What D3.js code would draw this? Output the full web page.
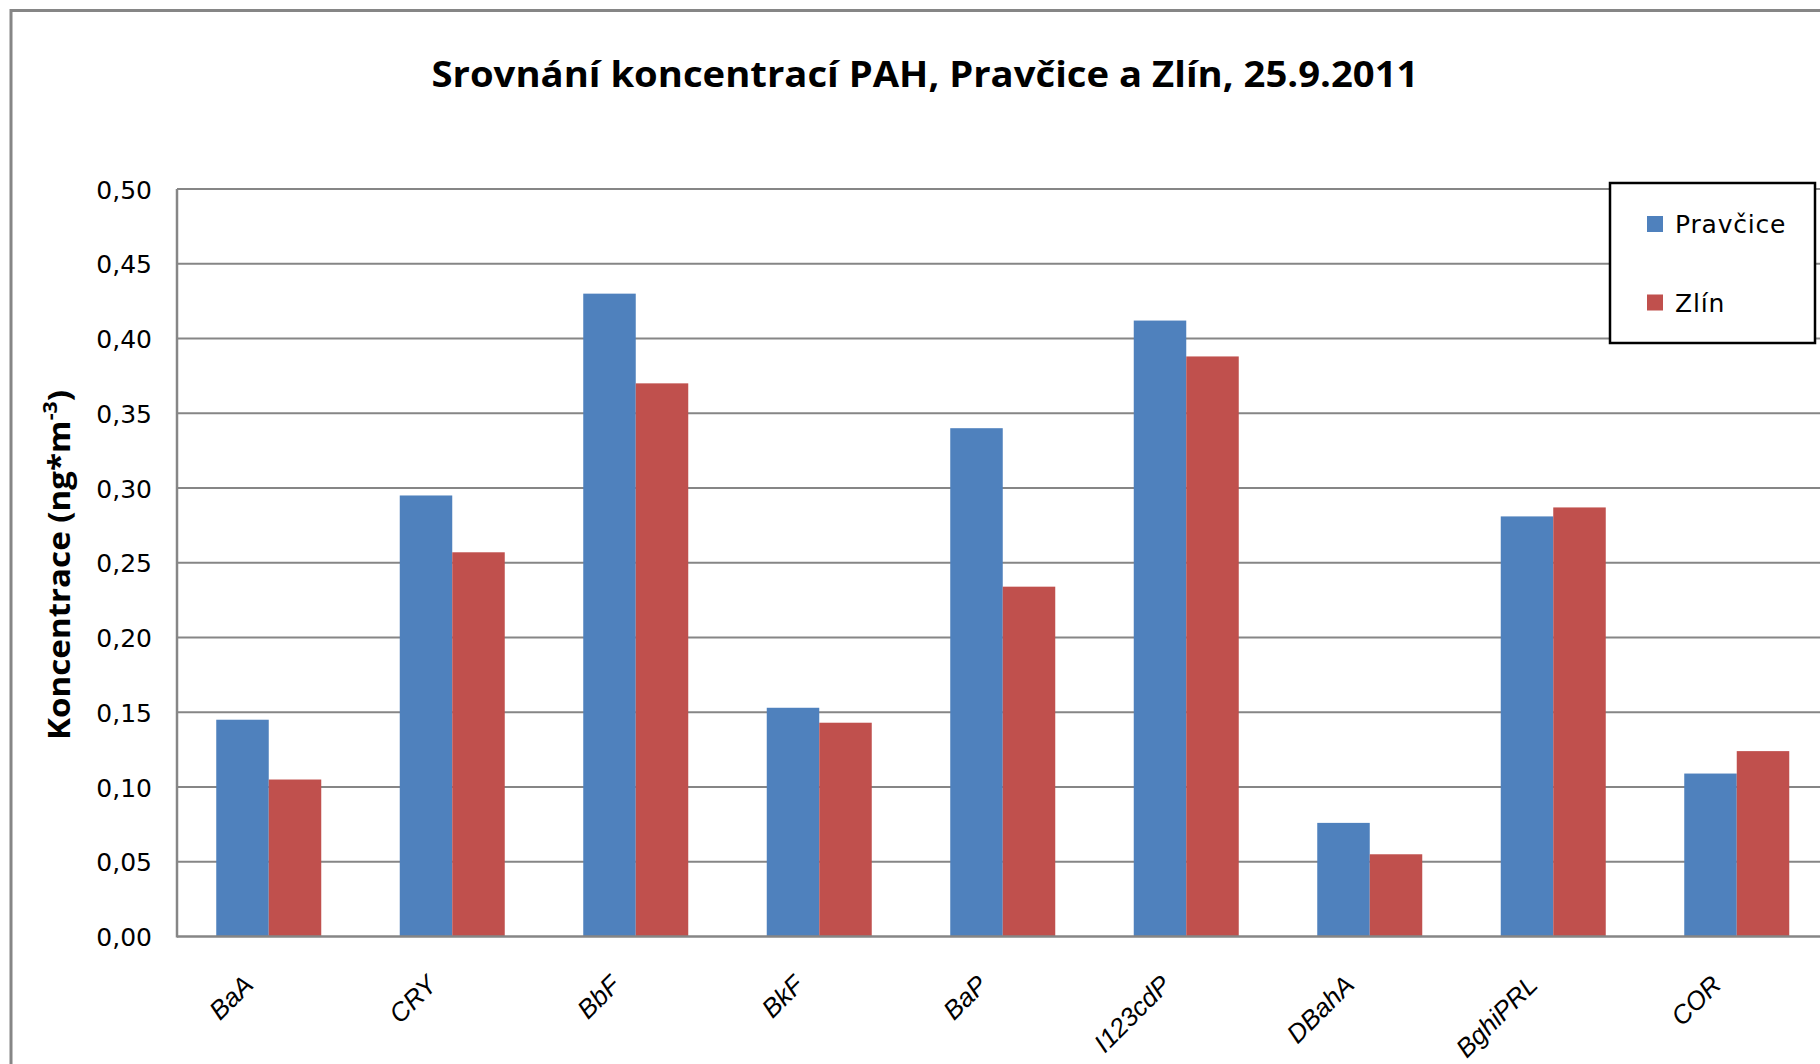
<!DOCTYPE html>
<html>
<head>
<meta charset="utf-8">
<script src="https://cdn.jsdelivr.net/npm/d3@7"></script>
<style>
  html, body { margin: 0; padding: 0; background: #fff; }
  svg { display: block; }
</style>
</head>
<body>
<svg id="chart" width="1820" height="1064"></svg>
<script>
// PAH concentrations (ng*m^-3), 25.9.2011
const categories = ["BaA", "CRY", "BbF", "BkF", "BaP", "I123cdP", "DBahA", "BghiPRL", "COR"];
const seriesNames = ["Pravčice", "Zlín"];
const pravcice = [0.145, 0.295, 0.430, 0.153, 0.340, 0.412, 0.076, 0.281, 0.109];
const zlin     = [0.105, 0.257, 0.370, 0.143, 0.234, 0.388, 0.055, 0.287, 0.124];
const yTicks = [0, 0.05, 0.10, 0.15, 0.20, 0.25, 0.30, 0.35, 0.40, 0.45, 0.50];
const colors = ["#4F81BD", "#C0504D"];

const W = 1820, H = 1064;
const plot = { left: 177, top: 189, bottom: 936.5, step: 183.5 };
plot.right = plot.left + plot.step * categories.length;

const svg = d3.select("#chart");
const gridColor = "#868686";

// outer chart frame (top and left edges visible)
svg.append("path")
  .attr("d", `M11,${H} V10.5 H${W}`)
  .attr("fill", "none")
  .attr("stroke", gridColor)
  .attr("stroke-width", 3);

const x0 = d3.scaleBand()
  .domain(categories)
  .range([plot.left, plot.right])
  .paddingInner(0.4278)
  .paddingOuter(0.2139);

const x1 = d3.scaleBand()
  .domain(seriesNames)
  .range([0, x0.bandwidth()]);

const y = d3.scaleLinear().domain([0, 0.5]).range([plot.bottom, plot.top]);

// horizontal gridlines
svg.append("g")
  .selectAll("line")
  .data(yTicks.filter(d => d > 0))
  .join("line")
  .attr("x1", plot.left).attr("x2", W)
  .attr("y1", d => y(d)).attr("y2", d => y(d))
  .attr("stroke", gridColor)
  .attr("stroke-width", 2);

// bars
const rows = categories.map((c, i) => ({ cat: c, values: [pravcice[i], zlin[i]] }));
svg.append("g")
  .selectAll("g")
  .data(rows)
  .join("g")
  .attr("transform", d => `translate(${x0(d.cat)},0)`)
  .selectAll("rect")
  .data(d => d.values.map((v, k) => ({ key: seriesNames[k], v, k })))
  .join("rect")
  .attr("x", d => x1(d.key))
  .attr("width", x1.bandwidth())
  .attr("y", d => y(d.v))
  .attr("height", d => y(0) - y(d.v))
  .attr("fill", d => colors[d.k]);

// axis lines
svg.append("line")
  .attr("x1", plot.left).attr("x2", plot.left)
  .attr("y1", plot.top).attr("y2", plot.bottom + 1)
  .attr("stroke", gridColor).attr("stroke-width", 2.5);
svg.append("line")
  .attr("x1", plot.left).attr("x2", W)
  .attr("y1", plot.bottom).attr("y2", plot.bottom)
  .attr("stroke", gridColor).attr("stroke-width", 2.5);

// y axis labels
const fmt = d => d3.format(".2f")(d).replace(".", ",");
const yAxis = svg.append("g")
  .attr("transform", `translate(${plot.left - 25},0)`)
  .call(d3.axisLeft(y).tickValues(yTicks).tickFormat(fmt).tickSize(0).tickPadding(0));
yAxis.select(".domain").remove();
yAxis.selectAll("text")
  .attr("font-family", "'DejaVu Sans', Verdana, sans-serif")
  .attr("font-size", 25)
  .attr("fill", "#000")
  .attr("dy", "0.36em");

// x axis labels, rotated
const xAxis = svg.append("g")
  .attr("transform", `translate(0,${plot.bottom})`)
  .call(d3.axisBottom(x0).tickSize(0).tickPadding(0));
xAxis.select(".domain").remove();
xAxis.selectAll("text")
  .attr("font-family", "'Liberation Sans', Arial, sans-serif")
  .attr("font-style", "italic")
  .attr("font-size", 26)
  .attr("fill", "#000")
  .attr("text-anchor", "end")
  .attr("dy", null)
  .attr("y", null)
  .attr("transform", "translate(-14,50) rotate(-45)");

// chart title
svg.append("text")
  .attr("x", 925).attr("y", 87)
  .attr("text-anchor", "middle")
  .attr("font-family", "'Open Sans', sans-serif")
  .attr("font-weight", "bold")
  .attr("font-size", 36)
  .attr("textLength", 987)
  .attr("lengthAdjust", "spacingAndGlyphs")
  .text("Srovnání koncentrací PAH, Pravčice a Zlín, 25.9.2011");

// y axis title
const yTitle = svg.append("text")
  .attr("transform", "translate(70,565) rotate(-90)")
  .attr("text-anchor", "middle")
  .attr("font-family", "'Open Sans', sans-serif")
  .attr("font-weight", "bold")
  .attr("font-size", 31)
  .attr("textLength", 350)
  .attr("lengthAdjust", "spacingAndGlyphs");
yTitle.append("tspan").text("Koncentrace (ng*m");
yTitle.append("tspan").attr("font-size", 20).attr("dy", -13).text("-3");
yTitle.append("tspan").attr("dy", 13).text(")");

// legend
const legend = svg.append("g");
legend.append("rect")
  .attr("x", 1610).attr("y", 183)
  .attr("width", 205).attr("height", 160)
  .attr("fill", "#fff")
  .attr("stroke", "#000")
  .attr("stroke-width", 2.5);
const items = legend.selectAll("g.item")
  .data(seriesNames)
  .join("g")
  .attr("class", "item")
  .attr("transform", (d, i) => `translate(1647,${216 + i * 78.5})`);
items.append("rect")
  .attr("width", 16).attr("height", 16)
  .attr("fill", (d, i) => colors[i]);
items.append("text")
  .attr("x", 28).attr("y", 17)
  .attr("font-family", "'DejaVu Sans', Verdana, sans-serif")
  .attr("font-size", 25)
  .attr("letter-spacing", 0.8)
  .attr("fill", "#000")
  .text(d => d);
</script>
</body>
</html>
